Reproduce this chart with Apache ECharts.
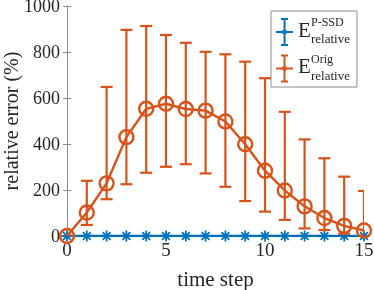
<!DOCTYPE html>
<html>
<head>
<meta charset="utf-8">
<script src="https://cdn.jsdelivr.net/npm/echarts@6/dist/echarts.min.js"></script>
<style>html,body{margin:0;padding:0;background:#fff}#c{width:374px;height:290px}</style>
</head>
<body>
<div id="c"></div>
<script>
// ---- data ----
var timeSteps = [0,1,2,3,4,5,6,7,8,9,10,11,12,13,14,15];
var pssdMean  = [0,0,0,0,0,0,0,0,0,0,0,0,0,0,0,0];
var pssdLower = [0,0,0,0,0,0,0,0,0,0,0,0,0,0,0,0];
var pssdUpper = [0,0,0,0,0,0,0,0,0,0,0,0,0,0,0,0];
var origMean  = [0,102,229,430,553,575,552,545,498,399,284,198,129,78,44,24];
var origLower = [0,48,160,225,275,301,312,272,214,152,106,70,33,26,10,0];
var origUpper = [0,240,648,896,913,874,840,801,790,758,686,540,420,338,258,196];
var xTicks = [0,5,10,15];
var yTicks = [0,200,400,600,800,1000];

var BLUE = '#0072BD', ORANGE = '#D95319';
var FONT = '"Liberation Serif","Times New Roman",serif';
var AXC = '#8c8c8c', TXT = '#262626';

// asterisk marker path (plus + x)
function asteriskPath(){
  var R = 10, w = 3.2, s = '';
  [0,45,90,135].forEach(function(a){
    var r = a*Math.PI/180, c = Math.cos(r), sn = Math.sin(r);
    var pts = [[-R,-w/2],[R,-w/2],[R,w/2],[-R,w/2]].map(function(p){
      return [(p[0]*c - p[1]*sn + 10).toFixed(2), (p[0]*sn + p[1]*c + 10).toFixed(2)];
    });
    s += 'M'+pts[0].join(' ')+'L'+pts[1].join(' ')+'L'+pts[2].join(' ')+'L'+pts[3].join(' ')+'Z';
  });
  return 'path://' + s;
}
// legend error-bar icon (17 x 28)
var ebIcon = 'path://M0 13L17 13L17 15L0 15Z' +
  'M7.5 0L9.5 0L9.5 28L7.5 28Z' +
  'M5 0L12 0L12 2L5 2Z' +
  'M5 26L12 26L12 28L5 28Z' +
  'M6.5 12L10.5 12L10.5 16L6.5 16Z';

function errorBarRender(color){
  return function(params, api){
    var x = api.value(0), lo = api.value(1), hi = api.value(2);
    var pLo = api.coord([x, lo]), pHi = api.coord([x, hi]);
    var hw = 6;
    var st = {stroke: color, lineWidth: 2.2, fill: null};
    return {type:'group', children:[
      {type:'line', shape:{x1:pHi[0], y1:pHi[1], x2:pLo[0], y2:pLo[1]}, style: st},
      {type:'line', shape:{x1:pHi[0]-hw, y1:pHi[1], x2:pHi[0]+hw, y2:pHi[1]}, style: st},
      {type:'line', shape:{x1:pLo[0]-hw, y1:pLo[1], x2:pLo[0]+hw, y2:pLo[1]}, style: st}
    ]};
  };
}

function pairs(ys){ return timeSteps.map(function(t,i){ return [t, ys[i]]; }); }
function triples(lo, hi){ return timeSteps.map(function(t,i){ return [t, lo[i], hi[i]]; }); }

var chart = echarts.init(document.getElementById('c'), null, {renderer:'canvas'});
var axisCommon = {
  axisLine:{show:true, lineStyle:{color:AXC, width:1}},
  axisTick:{show:true, inside:true, length:4, lineStyle:{color:AXC}},
  splitLine:{show:false}
};
var richLegend = {
  gap:{width:13, lineHeight:14},
  sup:{fontFamily:FONT, fontSize:12, color:TXT, lineHeight:14},
  E:{fontFamily:FONT, fontSize:21, color:TXT, lineHeight:2},
  gap2:{width:13, lineHeight:16},
  sub:{fontFamily:FONT, fontSize:13, color:TXT, lineHeight:16}
};
var option = {
  animation:false,
  backgroundColor:'#fff',
  grid:{left:67, right:10, top:6, bottom:54, containLabel:false, outerBoundsMode:'none'},
  legend:{
    orient:'vertical', left:271, top:11,
    padding:[6,7,4,5], itemGap:7,
    itemWidth:17, itemHeight:28,
    backgroundColor:'#fff', borderColor:AXC, borderWidth:1,
    data:[
      {name:'P-SSD', icon:ebIcon, itemStyle:{color:BLUE, borderWidth:0}},
      {name:'Orig', icon:ebIcon, itemStyle:{color:ORANGE, borderWidth:0}}
    ],
    formatter:function(n){ return '{gap|}{sup|' + n + '}\n{E|E}\n{gap2|}{sub|relative}'; },
    textStyle:{rich:richLegend}
  },
  xAxis:[
    Object.assign({type:'value', min:0, max:15, interval:5, position:'bottom',
      axisLabel:{color:TXT, fontFamily:FONT, fontSize:19, margin:6,
        formatter:function(v){ return xTicks.indexOf(v) >= 0 ? String(v) : ''; }},
      name:'time step', nameLocation:'middle', nameGap:34, nameMoveOverlap:false,
      nameTextStyle:{color:TXT, fontFamily:FONT, fontSize:21}}, axisCommon),
    Object.assign({type:'value', min:0, max:15, interval:5, position:'top',
      axisLabel:{show:false}}, axisCommon)
  ],
  yAxis:[
    Object.assign({type:'value', min:0, max:1000, interval:200, position:'left',
      axisLabel:{color:TXT, fontFamily:FONT, fontSize:18, margin:7,
        formatter:function(v){ return yTicks.indexOf(v) >= 0 ? '{v|' + v + '}' : ''; },
        rich:{v:{color:TXT, fontFamily:FONT, fontSize:18, padding:[3,0,0,0]}}},
      name:'relative error (%)', nameLocation:'middle', nameGap:44, nameMoveOverlap:false,
      nameTextStyle:{color:TXT, fontFamily:FONT, fontSize:20}}, axisCommon),
    Object.assign({type:'value', min:0, max:1000, interval:200, position:'right',
      axisLabel:{show:false}}, axisCommon)
  ],
  series:[
    {type:'custom', name:'P-SSD err', renderItem:errorBarRender(BLUE),
      data:triples(pssdLower, pssdUpper), encode:{x:0, y:[1,2]}, z:2, clip:true},
    {type:'line', name:'P-SSD', data:pairs(pssdMean),
      symbol:asteriskPath(), symbolSize:11, showAllSymbol:true,
      itemStyle:{color:BLUE}, lineStyle:{color:BLUE, width:2.4}, z:3},
    {type:'custom', name:'Orig err', renderItem:errorBarRender(ORANGE),
      data:triples(origLower, origUpper), encode:{x:0, y:[1,2]}, z:4, clip:true},
    {type:'line', name:'Orig', data:pairs(origMean),
      symbol:'circle', symbolSize:14, showAllSymbol:true,
      itemStyle:{color:'rgba(0,0,0,0)', borderColor:ORANGE, borderWidth:2.4},
      lineStyle:{color:ORANGE, width:2.4}, z:5}
  ]
};
chart.setOption(option);
</script>
</body>
</html>
